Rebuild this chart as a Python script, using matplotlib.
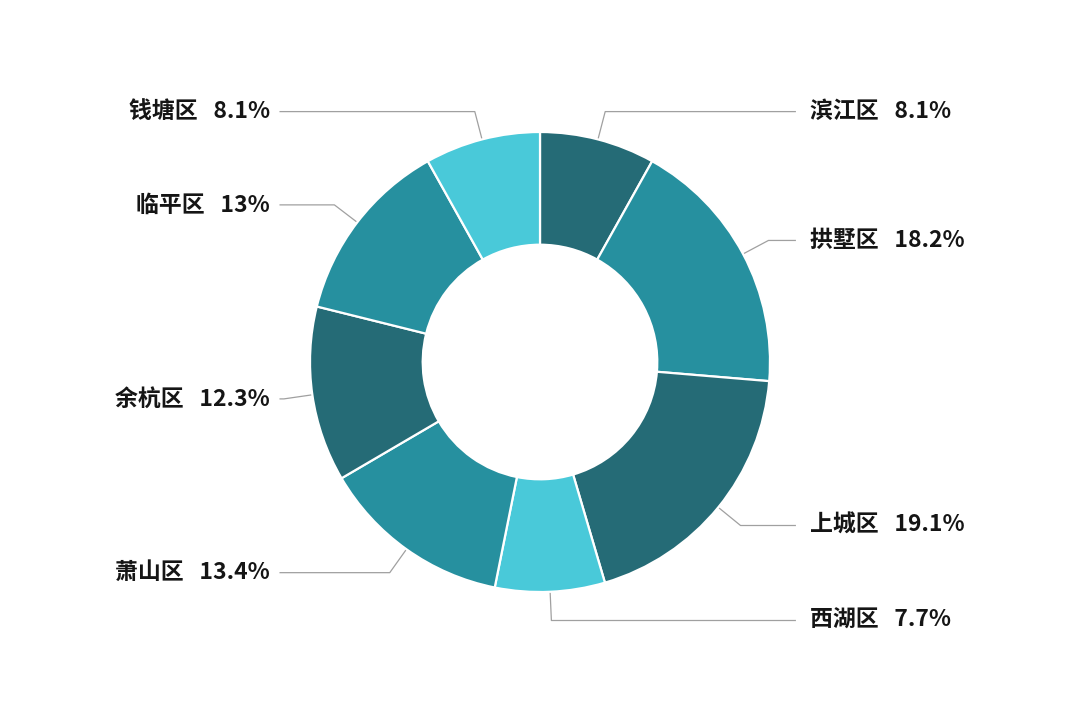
import numpy as np
import matplotlib
matplotlib.use('Agg')
import matplotlib.pyplot as plt

plt.rcParams['font.family'] = ['Noto Sans CJK SC', 'DejaVu Sans']

districts = ['滨江区', '拱墅区', '上城区', '西湖区', '萧山区', '余杭区', '临平区', '钱塘区']
shares = [8.1, 18.2, 19.1, 7.7, 13.4, 12.3, 13, 8.1]
share_labels = ['8.1%', '18.2%', '19.1%', '7.7%', '13.4%', '12.3%', '13%', '8.1%']
colors = ['#256b76', '#26909f', '#256b76', '#49c9d9', '#26909f', '#256b76', '#26909f', '#49c9d9']

W, H = 1080, 725
R = 230   # outer radius in px
CY = 362  # ring centre, px from top
fig = plt.figure(figsize=(W / 100, H / 100), dpi=100)
ax = fig.add_axes([0, 0, 1, 1])

wedges, _ = ax.pie(shares, colors=colors, startangle=90, counterclock=False,
                   radius=1, wedgeprops=dict(width=0.49, edgecolor='white', linewidth=1.6))

# pie() resets the limits, so fix them afterwards
ax.set_xlim(-540 / R, 540 / R)
ax.set_ylim(-(H - CY) / R, CY / R)
ax.set_aspect('equal')
ax.axis('off')

total = sum(shares)
cum = 0
for name, v, lab in zip(districts, shares, share_labels):
    mid = (cum + v / 2) / total * 2 * np.pi
    cum += v
    sx, sy = np.sin(mid), np.cos(mid)
    ex, ey = 1.125 * sx, 1.125 * sy
    if sx >= 0:
        tx, lx, ha = 1.174, 1.11, 'left'
    else:
        tx, lx, ha = -1.174, -1.13, 'right'
    ax.plot([sx, ex, lx], [sy, ey, ey], color='#a0a0a0', lw=0.9, zorder=0)
    ax.text(tx, ey, name + '   ' + lab, ha=ha, va='center', fontsize=16.5,
            fontweight='bold', color='#151515')

fig.savefig('out.png', dpi=100, facecolor='white')
